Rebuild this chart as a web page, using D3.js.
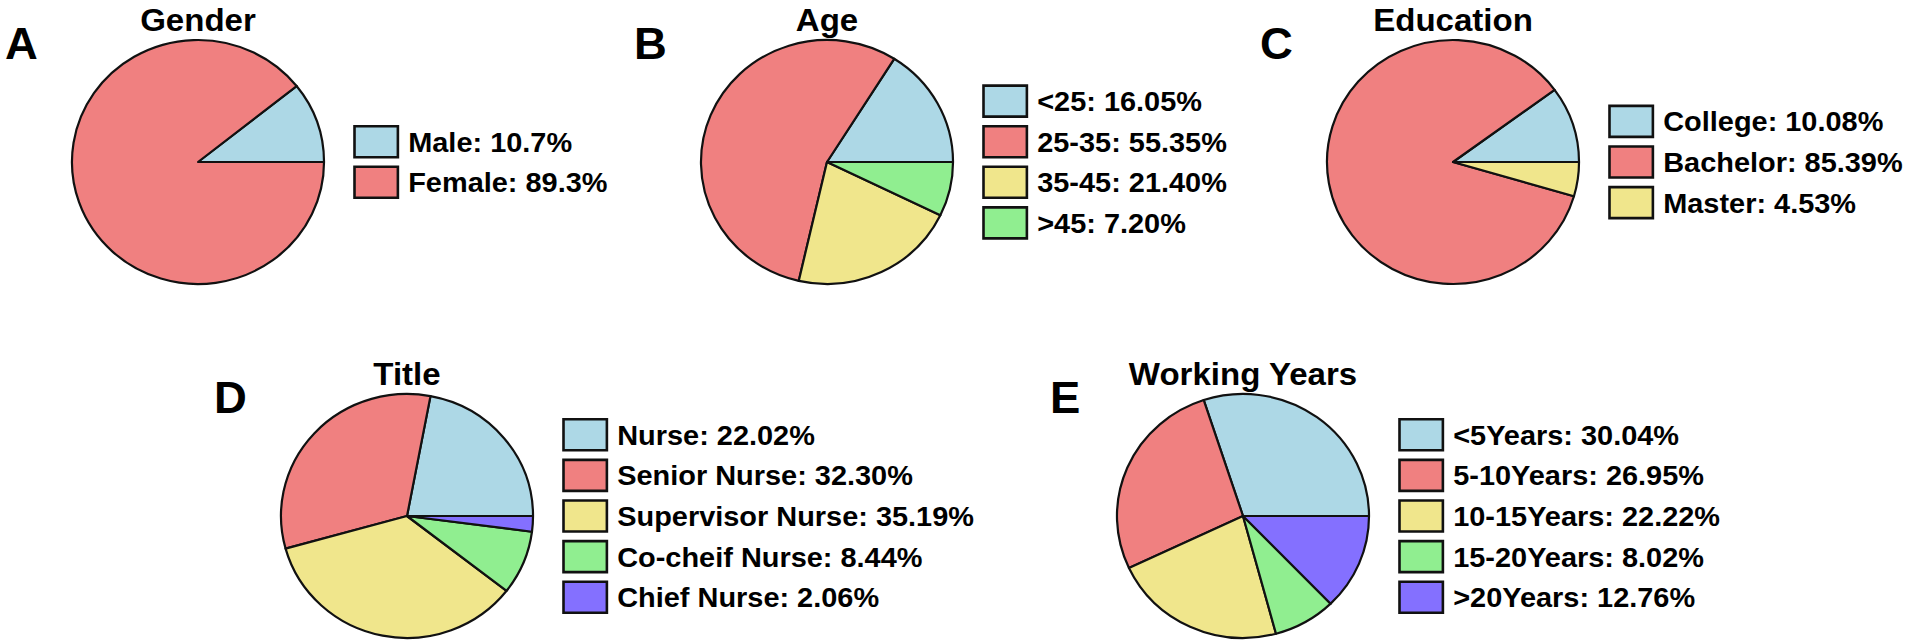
<!DOCTYPE html>
<html>
<head>
<meta charset="utf-8">
<script src="https://cdn.jsdelivr.net/npm/d3@7"></script>
<style>
  html, body { margin: 0; padding: 0; background: #fff; }
  svg text { font-family: "Liberation Sans", Arial, Helvetica, sans-serif; font-weight: bold; fill: #000; }
</style>
</head>
<body>
<svg id="chart"></svg>
<script>
//Data
const genderLabels = ["Male", "Female"];
const genderValues = [10.7, 89.3];

const ageLabels = ["<25", "25-35", "35-45", ">45"];
const ageValues = [16.05, 55.35, 21.40, 7.20];

const eduLabels = ["College", "Bachelor", "Master"];
const eduValues = [10.08, 85.39, 4.53];

const titleLabels = ["Nurse", "Senior Nurse", "Supervisor Nurse", "Co-cheif Nurse", "Chief Nurse"];
const titleValues = [22.02, 32.30, 35.19, 8.44, 2.06];

const yearLabels = ["<5Years", "5-10Years", "10-15Years", "15-20Years", ">20Years"];
const yearValues = [30.04, 26.95, 22.22, 8.02, 12.76];

const sliceColors = ["#ADD8E6", "#F08080", "#F0E68C", "#90EE90", "#8470FF"];

//Dimensions
const width = 1908, height = 643;
const radius = 122, stretch = 1.033;

const svg = d3.select("#chart").attr("width", width).attr("height", height);

const panels = [
  {tag: "A", title: "Gender", labels: genderLabels, values: genderValues, dec: 1, cx: 198, cy: 162},
  {tag: "B", title: "Age", labels: ageLabels, values: ageValues, dec: 2, cx: 827, cy: 162},
  {tag: "C", title: "Education", labels: eduLabels, values: eduValues, dec: 2, cx: 1453, cy: 162},
  {tag: "D", title: "Title", labels: titleLabels, values: titleValues, dec: 2, cx: 407, cy: 516},
  {tag: "E", title: "Working Years", labels: yearLabels, values: yearValues, dec: 2, cx: 1243, cy: 516}
];

// matplotlib style: start at 3 o'clock, go counterclockwise
const pie = d3.pie().sort(null)
  .startAngle(Math.PI / 2)
  .endAngle(Math.PI / 2 - 2 * Math.PI);
const arc = d3.arc().innerRadius(0).outerRadius(radius);

const color = d3.scaleOrdinal().range(sliceColors);

panels.forEach(p => {
  const g = svg.append("g")
    .attr("transform", `translate(${p.cx},${p.cy}) scale(${stretch},1)`);

  color.domain(p.labels);

  g.selectAll("path.slice")
    .data(pie(p.values))
    .enter().append("path")
    .attr("class", "slice")
    .attr("d", arc)
    .attr("fill", (d, i) => color(p.labels[i]))
    .attr("stroke", "#111")
    .attr("stroke-width", 2.2)
    .attr("stroke-linejoin", "round")
    .attr("vector-effect", "non-scaling-stroke");

  g.append("text")
    .attr("x", 0).attr("y", -radius - 9)
    .attr("text-anchor", "middle")
    .style("font-size", "32px")
    .text(p.title);

  g.append("text")
    .attr("x", -193 / stretch).attr("y", -103)
    .style("font-size", "44px")
    .text(p.tag);

  //Legend
  const pitch = 40.6, boxH = 31, boxW = 42;
  const boxX = 151.5;
  const top = -(p.labels.length * pitch - (pitch - boxH)) / 2;
  const rows = g.selectAll("g.row")
    .data(p.labels)
    .enter().append("g")
    .attr("class", "row")
    .attr("transform", (d, i) => `translate(0,${top + i * pitch})`);

  rows.append("rect")
    .attr("x", boxX).attr("y", 0)
    .attr("width", boxW).attr("height", boxH)
    .attr("fill", d => color(d))
    .attr("stroke", "#111")
    .attr("stroke-width", 2.6)
    .attr("vector-effect", "non-scaling-stroke");

  rows.append("text")
    .attr("x", boxX + boxW + 10)
    .attr("y", boxH / 2 + 10)
    .style("font-size", "28px")
    .text((d, i) => `${d}: ${p.values[i].toFixed(p.dec)}%`);
});
</script>
</body>
</html>
